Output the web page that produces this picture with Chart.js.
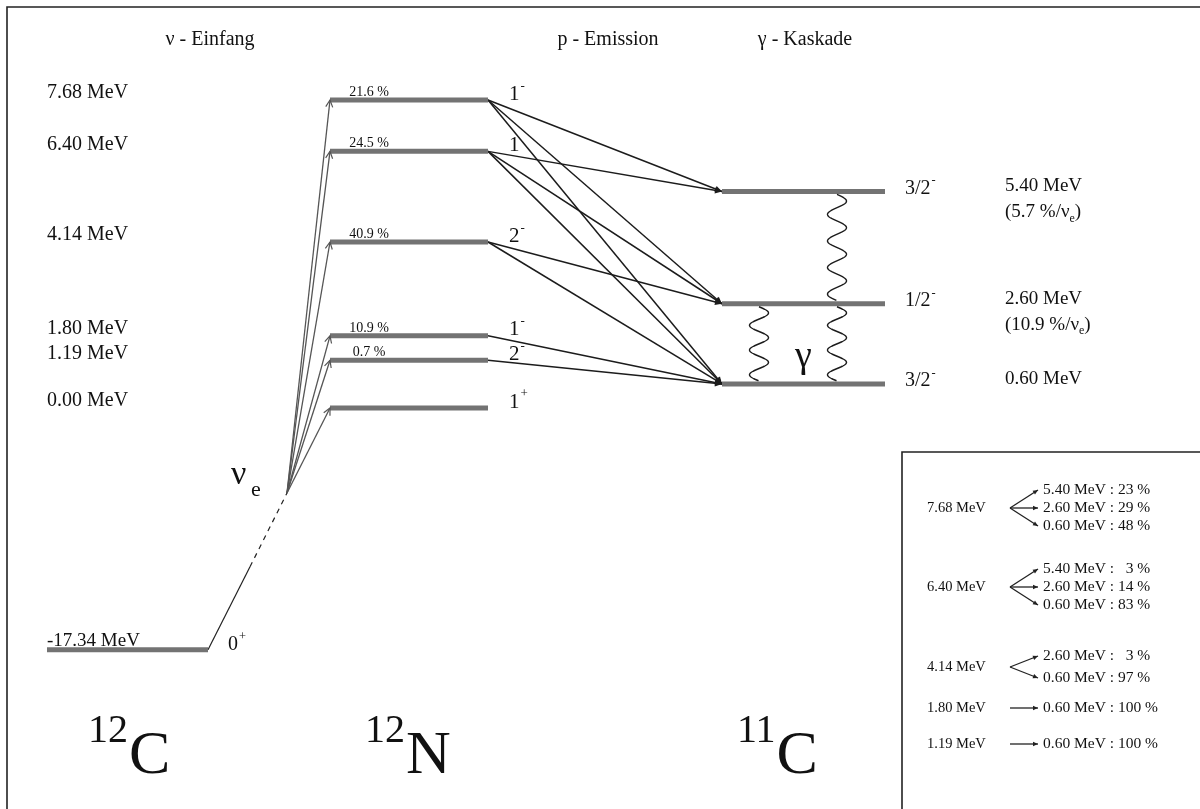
<!DOCTYPE html>
<html>
<head>
<meta charset="utf-8">
<script src="https://cdn.jsdelivr.net/npm/chart.js@4.4.1/dist/chart.umd.min.js"></script>
<style>
  html, body { margin: 0; padding: 0; background: #fff; }
  #wrap { width: 1200px; height: 809px; }
</style>
</head>
<body>
<div id="wrap"><canvas id="scheme" width="1200" height="809"></canvas></div>
<script>
// 12N levels (excitation energy in MeV)
const n12Energies = [7.68, 6.40, 4.14, 1.80, 1.19, 0.00];
const n12Labels = ['7.68 MeV', '6.40 MeV', '4.14 MeV', '1.80 MeV', '1.19 MeV', '0.00 MeV'];
const n12Spins = ['1', '1', '2', '1', '2', '1'];
const n12Parity = ['-', '', '-', '-', '-', '+'];
const n12Feeding = ['21.6 %', '24.5 %', '40.9 %', '10.9 %', '0.7 %', ''];

// 11C levels
const c11Energies = [5.40, 2.60, 0.60];
const c11Labels = ['5.40 MeV', '2.60 MeV', '0.60 MeV'];
const c11Spins = ['3/2', '1/2', '3/2'];
const c11Yield = ['5.7', '10.9', ''];

// 12C ground state
const c12Energy = -17.34;
const c12Label = '-17.34 MeV';

// proton branches 12N* -> 11C*, ratio in %
const pFrom = [7.68, 7.68, 7.68, 6.40, 6.40, 6.40, 4.14, 4.14, 1.80, 1.19];
const pTo = [5.40, 2.60, 0.60, 5.40, 2.60, 0.60, 2.60, 0.60, 0.60, 0.60];
const pRatio = [23, 29, 48, 3, 14, 83, 3, 97, 100, 100];

// gamma cascade in 11C
const gFrom = [5.40, 2.60, 2.60];
const gTo = [2.60, 0.60, 0.60];

// ---- layout ----
const FONT = '"Liberation Serif", "Times New Roman", serif';
const LEVEL_COLOR = '#737373';
const xC12 = [47, 208];
const xN12 = [330, 488];
const xC11 = [722, 885];
const gammaX = [837, 759, 837];
const C12_PLOT = -6.03;     // axis break: ground state of 12C not drawn to scale
const NU_BREAK = -3.96;     // solid part of the nu line ends here
const NU_VERTEX = -2.12;    // fan origin
const nuX = [208, 250, 287];
const insetGroups = [7.68, 6.40, 4.14, 1.80, 1.19];
const insetY = [508, 587, 667, 708, 744];

function level(x, e) {
  return {
    data: [{ x: x[0], y: e }, { x: x[1], y: e }],
    borderColor: LEVEL_COLOR, borderWidth: 5, order: 0
  };
}

const datasets = [];
n12Energies.forEach((e) => datasets.push(level(xN12, e)));
c11Energies.forEach((e) => datasets.push(level(xC11, e)));
datasets.push(level(xC12, C12_PLOT));

datasets.push({
  data: [{ x: nuX[0], y: C12_PLOT }, { x: nuX[1], y: NU_BREAK }],
  borderColor: '#222', borderWidth: 1.2, order: 2
});
datasets.push({
  data: [{ x: nuX[1], y: NU_BREAK }, { x: nuX[2], y: NU_VERTEX }],
  borderColor: '#222', borderWidth: 1.2, borderDash: [5, 5], order: 2
});
n12Energies.forEach((e) => {
  datasets.push({
    data: [{ x: nuX[2], y: NU_VERTEX }, { x: xN12[0], y: e }],
    borderColor: '#555', borderWidth: 1.3, order: 2, arrow: 'open'
  });
});
pFrom.forEach((from, i) => {
  datasets.push({
    data: [{ x: xN12[1], y: from }, { x: xC11[0], y: pTo[i] }],
    borderColor: '#1c1c1c', borderWidth: 1.5, order: 2, arrow: 'filled'
  });
});

// inset arrows (yAxis in pixels)
insetGroups.forEach((from, g) => {
  const idx = pFrom.map((f, i) => (f === from ? i : -1)).filter((i) => i >= 0);
  const cy = insetY[g];
  const step = idx.length === 3 ? 18 : 11;
  idx.forEach((i, k) => {
    const ty = idx.length === 1 ? cy : cy + (k - (idx.length - 1) / 2) * step * (idx.length === 3 ? 1 : 2);
    datasets.push({
      yAxisID: 'yp',
      data: [{ x: 1010, y: cy }, { x: 1038, y: ty }],
      borderColor: '#222', borderWidth: 1.3, order: 2, arrow: 'small',
      insetText: `${pTo[i].toFixed(2)} MeV : ${String(pRatio[i]).padStart(2, '\u2007')} %`,
      insetRow: ty
    });
  });
});

function drawText(ctx, s, x, y, size, align = 'left', base = 'middle') {
  ctx.font = `${size}px ${FONT}`;
  ctx.textAlign = align;
  ctx.textBaseline = base;
  ctx.fillText(s, x, y);
  return ctx.measureText(s).width;
}

function drawSup(ctx, main, sup, x, y, size) {
  const w = drawText(ctx, main, x, y, size);
  if (sup) drawText(ctx, sup, x + w + 1, y - size * 0.42, size * 0.62);
}

function arrowHead(ctx, p0, p1, kind, color) {
  const a = Math.atan2(p1.y - p0.y, p1.x - p0.x);
  ctx.save();
  ctx.translate(p1.x, p1.y);
  ctx.rotate(a);
  ctx.strokeStyle = color;
  ctx.fillStyle = color;
  ctx.lineWidth = 1.2;
  ctx.beginPath();
  if (kind === 'open') {
    ctx.moveTo(-7, -3.5); ctx.lineTo(0, 0); ctx.lineTo(-7, 3.5);
    ctx.stroke();
  } else {
    const s = kind === 'small' ? 5 : 7;
    ctx.moveTo(-s, -s * 0.45); ctx.lineTo(0, 0); ctx.lineTo(-s, s * 0.45);
    ctx.closePath();
    ctx.fill();
  }
  ctx.restore();
}

function wave(ctx, x, y0, y1, amp, period) {
  const n = Math.max(1, Math.round((y1 - y0) / period));
  const p = (y1 - y0) / n;
  ctx.beginPath();
  for (let y = y0; y <= y1 + 0.01; y += 0.5) {
    const dx = amp * Math.sin(((y - y0) / p) * 2 * Math.PI);
    if (y === y0) ctx.moveTo(x + dx, y); else ctx.lineTo(x + dx, y);
  }
  ctx.stroke();
}

const schemePlugin = {
  id: 'scheme',
  beforeDatasetsDraw(chart) {
    const ctx = chart.ctx;
    ctx.save();
    ctx.strokeStyle = '#222';
    ctx.lineWidth = 1.6;
    ctx.beginPath();
    ctx.moveTo(7, 809); ctx.lineTo(7, 7); ctx.lineTo(1200, 7);
    ctx.moveTo(902, 809); ctx.lineTo(902, 452); ctx.lineTo(1200, 452);
    ctx.stroke();
    ctx.restore();
  },
  afterDatasetsDraw(chart) {
    const ctx = chart.ctx;
    const yE = (e) => chart.scales.y.getPixelForValue(e);
    const xs = chart.scales.x;
    ctx.save();

    // arrow heads
    chart.data.datasets.forEach((ds, i) => {
      if (!ds.arrow) return;
      const pts = chart.getDatasetMeta(i).data;
      arrowHead(ctx, pts[0], pts[pts.length - 1], ds.arrow, ds.borderColor);
    });

    // gamma transitions
    ctx.strokeStyle = '#1c1c1c';
    ctx.lineWidth = 1.4;
    gFrom.forEach((from, i) => {
      wave(ctx, xs.getPixelForValue(gammaX[i]), yE(from) + 3, yE(gTo[i]) - 3, 9.5, 27);
    });

    ctx.fillStyle = '#111';
    // column titles
    drawText(ctx, '\u03bd - Einfang', 210, 40, 20, 'center');
    drawText(ctx, 'p - Emission', 608, 40, 20, 'center');
    drawText(ctx, '\u03b3 - Kaskade', 805, 40, 20, 'center');

    // 12N
    n12Energies.forEach((e, i) => {
      const y = yE(e);
      drawText(ctx, n12Labels[i], 47, y - 7, 20);
      if (n12Feeding[i]) drawText(ctx, n12Feeding[i], 369, y - 4, 14, 'center', 'alphabetic');
      drawSup(ctx, n12Spins[i], n12Parity[i], 509, y - 6, 21);
    });

    // 11C
    c11Energies.forEach((e, i) => {
      const y = yE(e);
      drawSup(ctx, c11Spins[i], '-', 905, y - 3, 20);
      drawText(ctx, c11Labels[i], 1005, y - 5, 19);
      if (c11Yield[i]) {
        let x = 1005;
        x += drawText(ctx, `(${c11Yield[i]} %/\u03bd`, x, y + 21, 19);
        x += drawText(ctx, 'e', x, y + 27, 12);
        drawText(ctx, ')', x, y + 21, 19);
      }
    });

    // 12C ground state
    const yc = yE(C12_PLOT);
    drawText(ctx, c12Label, 47, yc - 4, 19, 'left', 'alphabetic');
    drawSup(ctx, '0', '+', 228, yc - 5, 20);

    // neutrino label and gamma
    drawText(ctx, '\u03bd', 231, 484, 34, 'left', 'alphabetic');
    drawText(ctx, 'e', 251, 496, 22, 'left', 'alphabetic');
    drawText(ctx, '\u03b3', 795, 367, 38, 'left', 'alphabetic');

    // nuclei
    [['12', 'C', 88], ['12', 'N', 365], ['11', 'C', 737]].forEach(([a, s, x]) => {
      const w = drawText(ctx, a, x, 742, 40, 'left', 'alphabetic');
      drawText(ctx, s, x + w + 1, 773, 62, 'left', 'alphabetic');
    });

    // inset table
    insetGroups.forEach((from, g) => {
      drawText(ctx, `${from.toFixed(2)} MeV`, 927, insetY[g], 14.5);
    });
    chart.data.datasets.forEach((ds) => {
      if (ds.insetText) drawText(ctx, ds.insetText, 1043, ds.insetRow, 15.5);
    });

    ctx.restore();
  }
};

new Chart(document.getElementById('scheme'), {
  type: 'scatter',
  data: { datasets },
  options: {
    responsive: false,
    animation: false,
    showLine: true,
    elements: { point: { radius: 0 }, line: { tension: 0, borderCapStyle: 'butt' } },
    layout: { padding: 0 },
    plugins: { legend: { display: false }, tooltip: { enabled: false } },
    scales: {
      x: { type: 'linear', min: 0, max: 1200, display: false },
      y: { type: 'linear', min: -10.0, max: 10.175, display: false },
      yp: { type: 'linear', min: 0, max: 809, reverse: true, display: false }
    }
  },
  plugins: [schemePlugin]
});
</script>
</body>
</html>
